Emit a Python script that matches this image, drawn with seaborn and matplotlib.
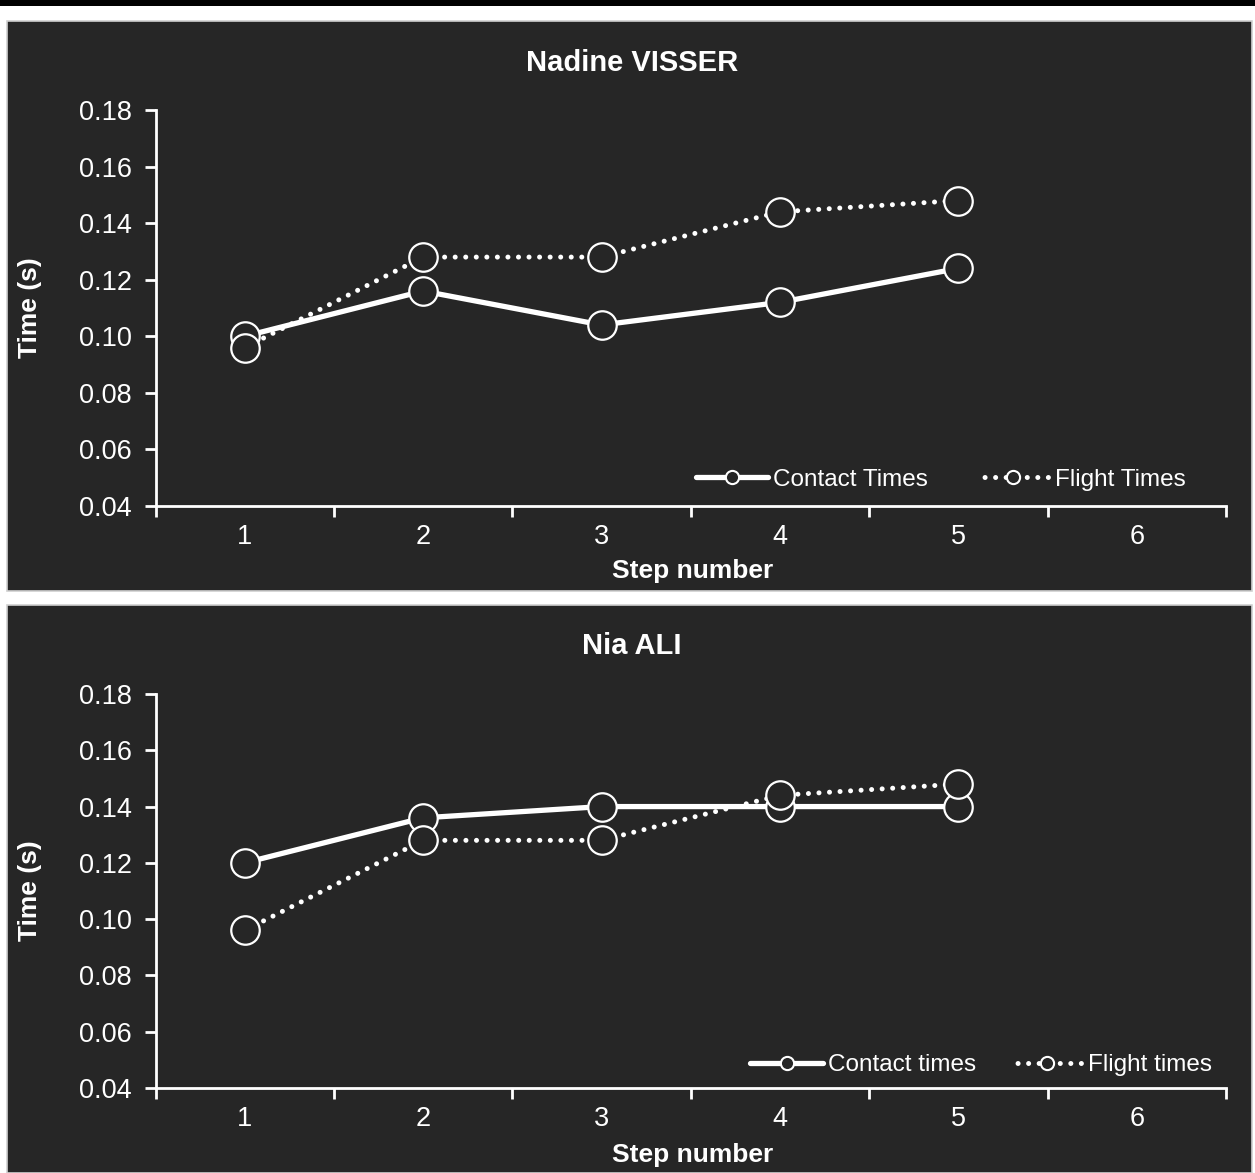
import matplotlib
matplotlib.use("Agg")
import matplotlib.pyplot as plt
import seaborn as sns
import pandas as pd
from matplotlib.lines import Line2D
from matplotlib.patches import Rectangle

# ---- data ----
steps = [1, 2, 3, 4, 5]
xtick_labels = ["1", "2", "3", "4", "5", "6"]
visser_contact = [0.100, 0.116, 0.104, 0.112, 0.124]
visser_flight = [0.096, 0.128, 0.128, 0.144, 0.148]
ali_contact = [0.120, 0.136, 0.140, 0.140, 0.140]
ali_flight = [0.096, 0.128, 0.128, 0.144, 0.148]
yticks = [0.04, 0.06, 0.08, 0.10, 0.12, 0.14, 0.16, 0.18]
titles = ["Nadine VISSER", "Nia ALI"]
legend_labels = [["Contact Times", "Flight Times"], ["Contact times", "Flight times"]]

sns.set_theme(style="dark")
plt.rcParams['font.family'] = ['Liberation Sans', 'DejaVu Sans']

BG = "#262626"
W, H = 1255, 1173
fig = plt.figure(figsize=(W / 100, H / 100), dpi=100, facecolor="white")

# background panels
fig.patches.append(Rectangle((0, 1 - 6 / H), 1, 6 / H, transform=fig.transFigure,
                             facecolor="black", edgecolor="none", zorder=-5))
for (ytop, ybot) in [(21, 591), (605, 1173)]:
    fig.patches.append(Rectangle((7 / W, 1 - ybot / H), (1252 - 7) / W, (ybot - ytop) / H,
                                 transform=fig.transFigure, facecolor=BG,
                                 edgecolor="#d0d0d0", linewidth=1.2, zorder=-5))

axes_pos = [
    [155.5 / W, 667 / H, 1070.5 / W, 396 / H],
    [155.5 / W, 85 / H, 1070.5 / W, 394 / H],
]
datasets = [(visser_contact, visser_flight), (ali_contact, ali_flight)]
title_y = [62, 645]
xlabel_y = [571, 1155]
leg_anchor = [(0.962, 0.066), (0.987, 0.058)]
colspace = [2.0, 1.4]

dot_style = (0, (0.01, 2.1))

for i in range(2):
    ax = fig.add_axes(axes_pos[i])
    ax.set_facecolor(BG)
    ax.patch.set_alpha(0)
    contact, flight = datasets[i]
    df = pd.DataFrame({"step": steps, "contact": contact, "flight": flight})
    sns.lineplot(data=df, x="step", y="contact", ax=ax, color="white", linewidth=3.8,
                 marker="o", markersize=20.5, markerfacecolor=BG, markeredgecolor="white",
                 markeredgewidth=1.6, legend=False, zorder=3)
    sns.lineplot(data=df, x="step", y="flight", ax=ax, color="white", linewidth=3.6,
                 linestyle=dot_style, dash_capstyle="round",
                 marker="o", markersize=20.5, markerfacecolor=BG, markeredgecolor="white",
                 markeredgewidth=1.6, legend=False, zorder=4)
    ax.set_xlim(0.5, 6.5)
    ax.set_ylim(0.04, 0.18)
    ax.set_yticks(yticks)
    ax.set_yticklabels([f"{v:.2f}" for v in yticks])
    ax.set_xticks([0.5 + k for k in range(7)])
    ax.set_xticklabels([])
    ax.set_xticks(list(range(1, 7)), minor=True)
    ax.set_xticklabels(xtick_labels, minor=True)
    ax.tick_params(axis="x", which="major", direction="out", length=8, width=2,
                   color="white", bottom=True)
    ax.tick_params(axis="x", which="minor", length=0, pad=13, labelsize=19.5,
                   labelcolor="white")
    ax.tick_params(axis="y", direction="out", length=8, width=2, color="white",
                   left=True, labelsize=19.5, labelcolor="white", pad=9)
    for s in ["top", "right"]:
        ax.spines[s].set_visible(False)
    for s in ["left", "bottom"]:
        ax.spines[s].set_visible(True)
        ax.spines[s].set_color("white")
        ax.spines[s].set_linewidth(2)
    ax.grid(False)
    ax.set_xlabel("")
    ax.set_ylabel("")

    fig.text(632 / W, 1 - (title_y[i] + 1) / H, titles[i], ha="center", va="center",
             fontsize=21, fontweight="bold", color="white")
    fig.text(693 / W, 1 - xlabel_y[i] / H, "Step number", ha="center", va="center",
             fontsize=19, fontweight="bold", color="white")
    ycen = axes_pos[i][1] + axes_pos[i][3] / 2
    fig.text(30 / W, ycen, "Time (s)", ha="center", va="center", rotation=90,
             fontsize=19, fontweight="bold", color="white")

    h1 = Line2D([], [], color="white", linewidth=3.8, marker="o", markersize=9.5,
                markerfacecolor=BG, markeredgecolor="white", markeredgewidth=1.5)
    h2 = Line2D([], [], color="white", linewidth=3.6, linestyle=(0.6, (0.01, 2.1)),
                dash_capstyle="round", marker="o", markersize=9.5,
                markerfacecolor=BG, markeredgecolor="white", markeredgewidth=1.5)
    leg = ax.legend([h1, h2], legend_labels[i], loc="center right",
                    bbox_to_anchor=leg_anchor[i], ncol=2, frameon=False,
                    fontsize=17.5, handlelength=3.0, handletextpad=0.2,
                    columnspacing=colspace[i], borderpad=0, borderaxespad=0)
    for t in leg.get_texts():
        t.set_color("white")

fig.savefig("out.png", dpi=100, facecolor="white")
